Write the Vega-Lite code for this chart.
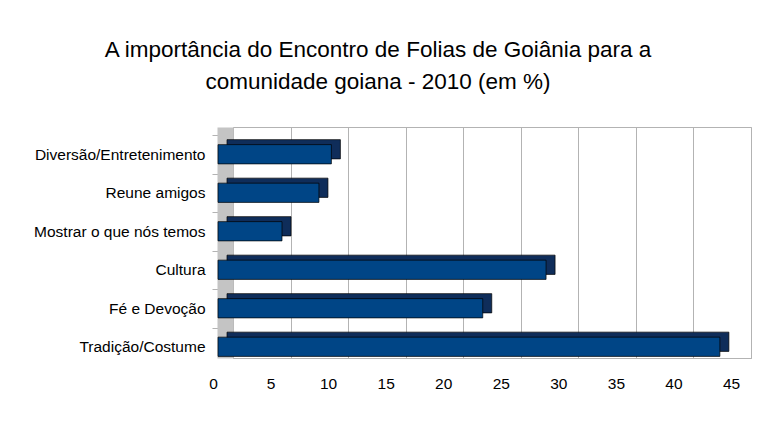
{
  "$schema": "https://vega.github.io/schema/vega-lite/v6.json",
  "width": 518,
  "height": 231,
  "autosize": {"type": "none"},
  "padding": {"left": 233, "top": 127, "right": 6, "bottom": 76},
  "background": "white",
  "title": {
    "text": ["A importância do Encontro de Folias de Goiânia para a", "comunidade goiana - 2010 (em %)"],
    "font": "Liberation Sans",
    "fontSize": 22.5,
    "fontWeight": "normal",
    "color": "#000000",
    "anchor": "middle",
    "dx": -114,
    "offset": 34,
    "lineHeight": 32
  },
  "data": {
    "values": [
      {"categoria": "Diversão/Entretenimento", "valor": 9.85},
      {"categoria": "Reune amigos", "valor": 8.77},
      {"categoria": "Mostrar o que nós temos", "valor": 5.56},
      {"categoria": "Cultura", "valor": 28.5},
      {"categoria": "Fé e Devoção", "valor": 23.0},
      {"categoria": "Tradição/Costume", "valor": 43.6}
    ]
  },
  "encoding": {
    "y": {
      "field": "categoria",
      "type": "nominal",
      "sort": null,
      "scale": {"paddingInner": 0.5, "paddingOuter": 0.25},
      "axis": {
        "title": null,
        "grid": false,
        "domainWidth": 16,
        "domainColor": "#c4c4c4",
        "offset": 8,
        "ticks": true,
        "tickColor": "#b3b3b3",
        "tickSize": 13,
        "tickOffset": -11.25,
        "labelOffset": 19.25,
        "labelPadding": 7,
        "labelFont": "Liberation Sans",
        "labelFontSize": 15.5,
        "labelColor": "#000000"
      }
    },
    "x": {
      "field": "valor",
      "type": "quantitative",
      "scale": {"domain": [0, 45], "nice": false},
      "axis": {
        "title": null,
        "values": [0, 5, 10, 15, 20, 25, 30, 35, 40, 45],
        "grid": true,
        "gridColor": "#b3b3b3",
        "domainColor": "#b3b3b3",
        "ticks": false,
        "labelFlush": false,
        "labelOffset": -20,
        "labelPadding": 18,
        "labelFont": "Liberation Sans",
        "labelFontSize": 15.5,
        "labelColor": "#000000"
      }
    }
  },
  "layer": [
    {"mark": {"type": "bar", "color": "#0f2d5a", "stroke": "#000000", "strokeWidth": 0.7, "xOffset": -6, "yOffset": 3}},
    {"mark": {"type": "bar", "color": "#004586", "stroke": "#000000", "strokeWidth": 0.7, "xOffset": -15, "yOffset": 8}}
  ],
  "config": {"view": {"stroke": "#b3b3b3"}}
}
